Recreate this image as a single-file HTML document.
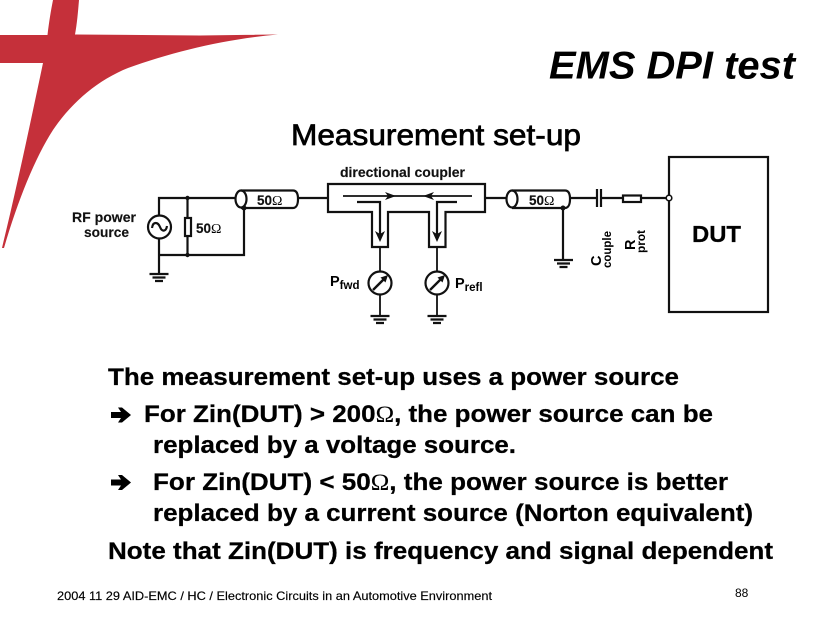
<!DOCTYPE html>
<html><head><meta charset="utf-8"><style>
html,body{margin:0;padding:0;background:#fff;width:840px;height:630px;overflow:hidden}
svg{display:block}
text{font-family:"Liberation Sans",sans-serif;fill:#000}
.b{font-weight:700;font-size:24px;stroke:#000;stroke-width:.25px}
.o{font-family:"Liberation Serif",serif;font-weight:400;stroke-width:.1px}
.l{font-weight:700;font-size:13.5px;fill:#111;stroke:#111;stroke-width:.15px}
.w{fill:none;stroke:#111;stroke-width:2.2}
.t{fill:none;stroke:#111;stroke-width:1.8}
</style></head><body>
<svg width="840" height="630" viewBox="0 0 840 630" xmlns="http://www.w3.org/2000/svg">
<defs>
<g id="g"><path d="M-9.5 0H9.500M-6.500 3.500H6.500M-4 7H4" fill="none" stroke="#111" stroke-width="2.200"/></g>
<g id="m"><circle r="11.500" fill="#fff" stroke="#111" stroke-width="2.200"/><path d="M-7 7L6 -6" stroke="#111" stroke-width="2.400"/><path d="M8 -8L0.500 -5.500L5.500 -0.500Z" fill="#111"/></g>
</defs>
<path fill="#c5303a" d="M53 0H79C78 12 77 24 75 34.500L200 35.500L278 34.500C225 39 172 52 128 68C98 80 72 102 53 130C35 158 18 200 4 248L2 248C15 195 30 125 43 63H0V35H47.500C49 22 51 10 53 0Z"/>

<text x="549" y="78.500" font-size="38.500" font-weight="700" font-style="italic" textLength="246" lengthAdjust="spacingAndGlyphs">EMS DPI test</text>
<text x="291" y="145" font-size="29.500" stroke="#000" stroke-width=".7" textLength="290" lengthAdjust="spacingAndGlyphs">Measurement set-up</text>

<!-- left part -->
<path class="w" d="M159 215V198H235M187.500 198V218M187.500 236V255M159 239V274M159 255H244V208M298 198H329"/>
<circle cx="187.500" cy="198" r="2.200" fill="#111"/><circle cx="187.500" cy="255" r="2.200" fill="#111"/><circle cx="244" cy="208" r="2.500" fill="#111"/>
<circle cx="159.500" cy="227" r="11.500" fill="#fff" stroke="#111" stroke-width="2.200"/>
<path d="M152 228C153 221 158 222 160 227C162 232 166 232 167 226" fill="none" stroke="#111" stroke-width="2.200"/>
<rect x="185" y="218" width="6" height="18" fill="#fff" stroke="#111" stroke-width="2.200"/>
<use href="#g" x="159" y="274"/>
<ellipse cx="241" cy="199" rx="5.500" ry="8.500" fill="none" stroke="#111" stroke-width="2.200"/>
<path class="w" d="M241 190.500H293C297 190.500 298 195 298 199C298 203 297 208 293 208H241"/>
<text class="l" x="72" y="222" textLength="64" lengthAdjust="spacingAndGlyphs">RF power</text>
<text class="l" x="84" y="237" textLength="45" lengthAdjust="spacingAndGlyphs">source</text>
<text class="l" x="196" y="233" textLength="15">50</text><text class="o" x="211" y="233" font-size="14">Ω</text>
<text class="l" x="257" y="205" textLength="15">50</text><text class="o" x="272" y="205" font-size="14">Ω</text>

<!-- coupler -->
<text class="l" x="340" y="177" textLength="125" lengthAdjust="spacingAndGlyphs">directional coupler</text>
<path class="w" d="M328 184H485V212H445.500V247H429V212H388V247H372V212H328Z"/>
<path class="t" d="M343 196H472"/>
<path d="M396 196L385 192L388 196L385 200Z" fill="#111"/>
<path d="M423 196L434 192L431 196L434 200Z" fill="#111"/>
<path class="w" d="M357 202H380V238M457 202H437V238"/>
<path d="M380 242L375 231L380 234L385 231Z" fill="#111"/>
<path d="M437 242L432 231L437 234L442 231Z" fill="#111"/>
<path class="t" d="M380 247V316M437 247V316"/>
<use href="#m" x="380" y="283"/><use href="#m" x="437" y="283"/>
<use href="#g" x="380" y="316"/><use href="#g" x="437" y="316"/>
<text x="330" y="286" font-size="14.500" font-weight="700" fill="#111">P<tspan font-size="11.500" dy="3">fwd</tspan></text>
<text x="455" y="288" font-size="14.500" font-weight="700" fill="#111">P<tspan font-size="11.500" dy="3">refl</tspan></text>

<!-- right part -->
<path class="w" d="M485 198H507M570 198H597M601 198H623M641 198H666M563 208V260"/>
<ellipse cx="512" cy="199" rx="5.500" ry="8.500" fill="none" stroke="#111" stroke-width="2.200"/>
<path class="w" d="M512 190.500H565C569 190.500 570 195 570 199C570 203 569 208 565 208H512"/>
<circle cx="563" cy="208" r="2.500" fill="#111"/>
<text class="l" x="529" y="205" textLength="15">50</text><text class="o" x="544" y="205" font-size="14">Ω</text>
<use href="#g" x="563.500" y="260"/>
<path d="M597 189V207M601 189V207" fill="none" stroke="#111" stroke-width="2.200"/>
<rect x="623" y="195.500" width="18" height="6.500" fill="#fff" stroke="#111" stroke-width="2.200"/>
<rect x="669" y="157" width="99" height="155" fill="none" stroke="#111" stroke-width="2.200"/>
<circle cx="669" cy="198" r="2.800" fill="#fff" stroke="#111" stroke-width="1.600"/>
<text x="692" y="242" font-size="23.500" font-weight="700" stroke="#111" stroke-width=".3" textLength="49" lengthAdjust="spacingAndGlyphs" fill="#111">DUT</text>
<text transform="translate(601,266) rotate(-90)" font-size="14.500" font-weight="700" fill="#111">C</text>
<text transform="translate(611,268) rotate(-90)" font-size="12" font-weight="700" fill="#111" textLength="37" lengthAdjust="spacingAndGlyphs">couple</text>
<text transform="translate(635,250) rotate(-90)" font-size="14.500" font-weight="700" fill="#111">R</text>
<text transform="translate(645,253) rotate(-90)" font-size="12" font-weight="700" fill="#111" textLength="23" lengthAdjust="spacingAndGlyphs">prot</text>

<!-- body -->
<text class="b" x="108" y="385" textLength="571" lengthAdjust="spacingAndGlyphs">The measurement set-up uses a power source</text>
<path d="M111 412H121L118 407.500H122L131 415L122 422.500H118L121 418H111Z" fill="#000"/>
<text class="b" x="144" y="422" textLength="569" lengthAdjust="spacingAndGlyphs">For Zin(DUT) &gt; 200<tspan class="o" font-size="23">Ω</tspan>, the power source can be</text>
<text class="b" x="153" y="453" textLength="363" lengthAdjust="spacingAndGlyphs">replaced by a voltage source.</text>
<path d="M111 479.500H121L118 475H122L131 482.500L122 490H118L121 485.500H111Z" fill="#000"/>
<text class="b" x="153" y="490" textLength="575" lengthAdjust="spacingAndGlyphs">For Zin(DUT) &lt; 50<tspan class="o" font-size="23">Ω</tspan>, the power source is better</text>
<text class="b" x="153" y="521" textLength="600" lengthAdjust="spacingAndGlyphs">replaced by a current source (Norton equivalent)</text>
<text class="b" x="108" y="559" textLength="665" lengthAdjust="spacingAndGlyphs">Note that Zin(DUT) is frequency and signal dependent</text>

<text x="57" y="600" font-size="12" stroke="#000" stroke-width=".15" textLength="435" lengthAdjust="spacingAndGlyphs">2004 11 29 AID-EMC / HC / Electronic Circuits in an Automotive Environment</text>
<text x="735" y="597" font-size="12" fill="#222">88</text>
</svg>
</body></html>
